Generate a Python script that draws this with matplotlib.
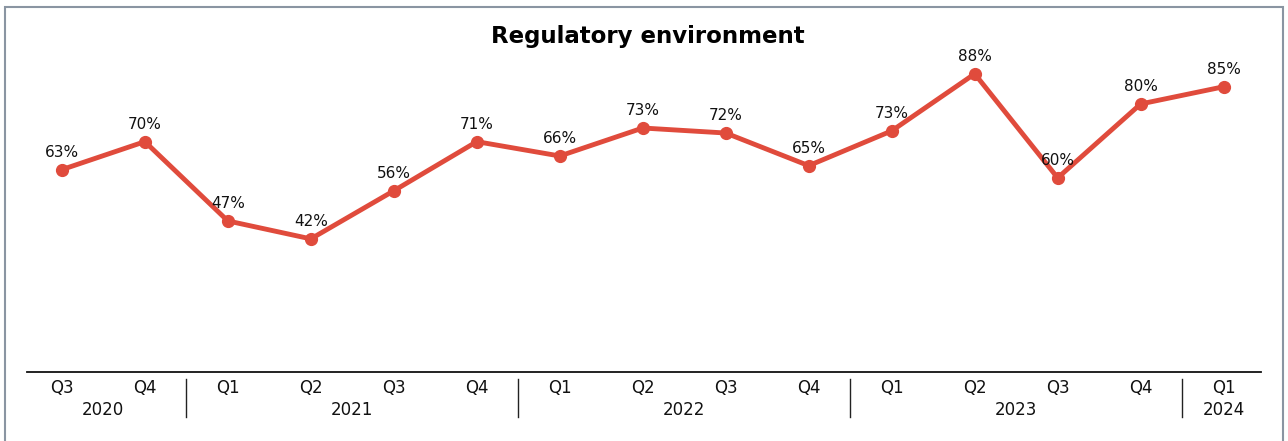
import matplotlib
matplotlib.use("Agg")
import matplotlib.pyplot as plt
from matplotlib.patches import Rectangle

# ---- data ----
quarters = ["Q3", "Q4", "Q1", "Q2", "Q3", "Q4", "Q1", "Q2", "Q3", "Q4",
            "Q1", "Q2", "Q3", "Q4", "Q1"]
years = ["2020", "2021", "2022", "2023", "2024"]
year_counts = [2, 4, 4, 4, 1]
# plotted positions
values = [61.3, 69.1, 47.0, 42.0, 55.4, 69.1, 65.1, 72.9, 71.5, 62.4,
          72.1, 88.0, 59.0, 79.6, 84.4]
# printed labels
labels = ["63%", "70%", "47%", "42%", "56%", "71%", "66%", "73%", "72%", "65%",
          "73%", "88%", "60%", "80%", "85%"]
title = "Regulatory environment"

LINE = "#E04B3C"

W, H = 1288, 441
fig = plt.figure(figsize=(W / 100, H / 100), dpi=100)
fig.patch.set_facecolor("white")

# outer frame
fig.patches.append(Rectangle((5 / W, -0.05), (1283 - 5) / W, 1.05 - 7 / H,
                             transform=fig.transFigure, fill=False,
                             edgecolor="#8A95A2", linewidth=1.5, zorder=0))

ax = fig.add_axes([27 / W, 69 / H, (1261 - 27) / W, (372 - 20) / H])
x = list(range(len(values)))
ax.plot(x, values, color=LINE, linewidth=3.5, marker="o", markersize=8.5,
        solid_capstyle="round", zorder=3)
for xi, v, lab in zip(x, values, labels):
    ax.annotate(lab, (xi, v), xytext=(0, 7), textcoords="offset points",
                ha="center", va="bottom", fontsize=11, color="#111111")

ax.set_xlim(-0.42, len(values) - 1 + 0.45)
ax.set_ylim(4.9, 103.0)
ax.set_yticks([])
for s in ["left", "right", "top"]:
    ax.spines[s].set_visible(False)
ax.spines["bottom"].set_linewidth(1.3)
ax.spines["bottom"].set_color("#111111")

ax.xaxis.remove_overlapping_locs = False
ax.set_xticks(x)
ax.set_xticklabels(quarters, fontsize=12, color="#111111")
ax.tick_params(axis="x", which="major", length=0, pad=5)

# year labels as minor ticks centred under each group
centers = []
seps = []
start = 0
for c in year_counts:
    centers.append(start + (c - 1) / 2)
    start += c
    seps.append(start - 0.5)
ax.set_xticks(centers, minor=True)
ax.set_xticklabels(years, minor=True, fontsize=12, color="#111111")
ax.tick_params(axis="x", which="minor", length=0, pad=21)

trans = ax.get_xaxis_transform()
for s in seps[:-1]:
    ax.plot([s, s], [-0.02, -0.128], color="#222222", linewidth=1.0,
            transform=trans, clip_on=False)

fig.text(648 / W, 1 - 37 / H, title, ha="center", va="center",
         fontsize=16.5, fontweight="bold", color="#000000")

fig.savefig("out.png", dpi=100, facecolor="white")
